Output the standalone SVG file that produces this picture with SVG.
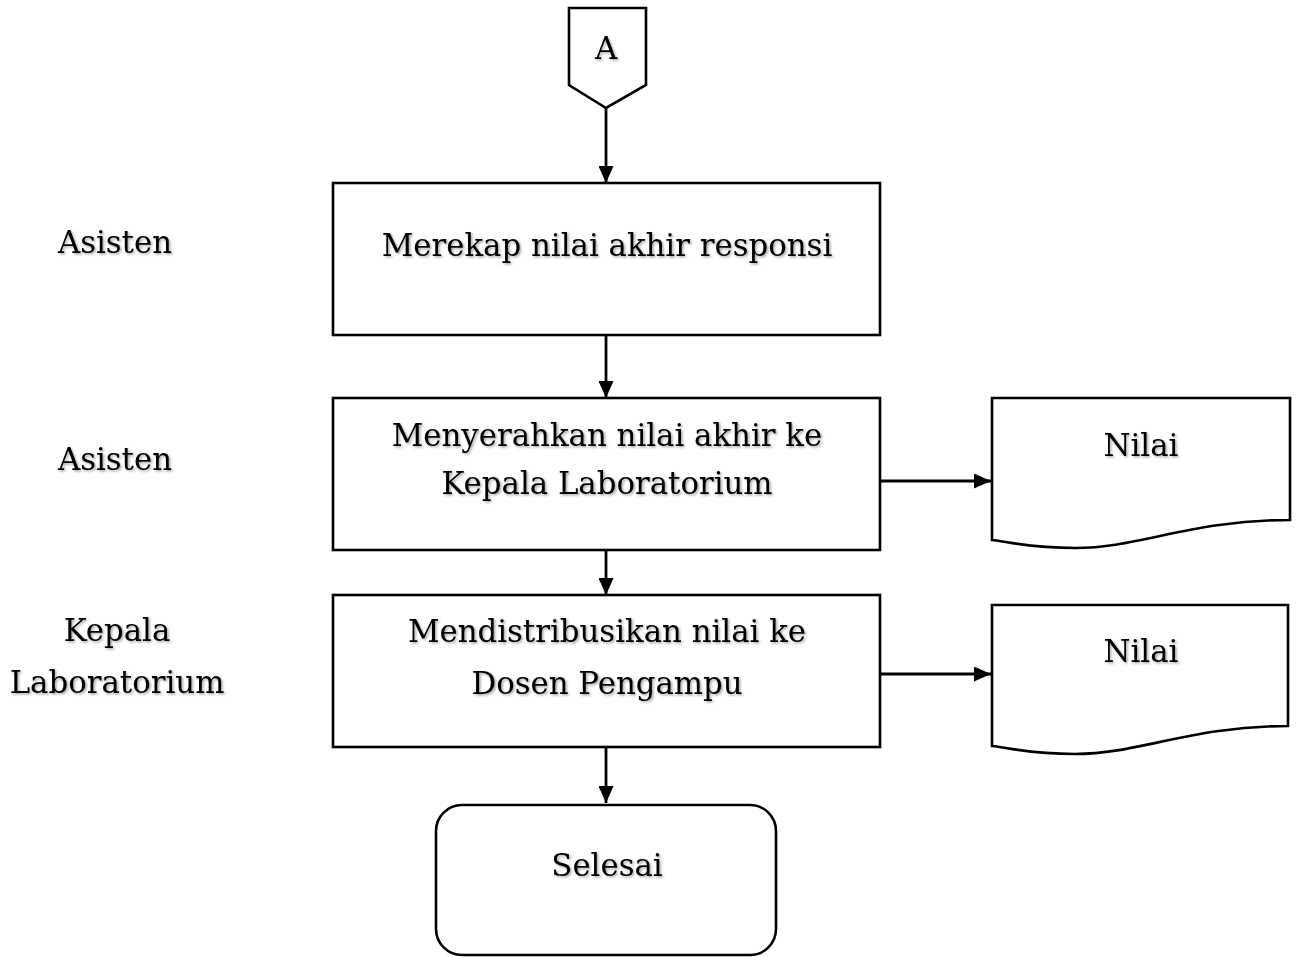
<svg xmlns="http://www.w3.org/2000/svg" width="1299" height="957" viewBox="0 0 1299 957">
<defs>
<marker id="arr" viewBox="0 0 17 15" refX="17" refY="7.5" markerWidth="17" markerHeight="15" orient="auto" markerUnits="userSpaceOnUse">
<path d="M0,0 L17,7.5 L0,15 Z" fill="#000"/>
</marker>
<filter id="sh" x="-5%" y="-20%" width="110%" height="140%">
<feDropShadow dx="1.5" dy="1.5" stdDeviation="1" flood-color="#000" flood-opacity="0.35"/>
</filter>
</defs>
<style>
.box{fill:#fff;stroke:#000;stroke-width:2.6}
.t{font-family:"DejaVu Serif","Liberation Serif",serif;font-size:30.8px;fill:#000;text-anchor:middle;filter:url(#sh)}
.c{stroke:#000;stroke-width:2.8;fill:none}
</style>
<rect width="1299" height="957" fill="#fff"/>
<g id="connectors">
<line class="c" x1="606" y1="108" x2="606" y2="183" marker-end="url(#arr)"/>
<line class="c" x1="606" y1="335" x2="606" y2="398" marker-end="url(#arr)"/>
<line class="c" x1="606" y1="550" x2="606" y2="595" marker-end="url(#arr)"/>
<line class="c" x1="606" y1="747" x2="606" y2="803" marker-end="url(#arr)"/>
<line class="c" x1="880" y1="481" x2="991" y2="481" marker-end="url(#arr)"/>
<line class="c" x1="880" y1="674" x2="991" y2="674" marker-end="url(#arr)"/>
</g>
<g id="offpage-A">
<path class="box" d="M569,8 L646,8 L646,85 L606,108 L569,85 Z" stroke-width="1.2"/>
<text class="t" x="606" y="59" font-size="25">A</text>
</g>
<g id="label-asisten1"><text class="t" x="115" y="253">Asisten</text></g>
<g id="label-asisten2"><text class="t" x="115" y="470">Asisten</text></g>
<g id="label-kepala"><text class="t" x="117" y="641">Kepala</text><text class="t" x="117" y="693">Laboratorium</text></g>
<g id="proc1">
<rect class="box" x="333" y="183" width="547" height="152"/>
<text class="t" x="607" y="256">Merekap nilai akhir responsi</text>
</g>
<g id="proc2">
<rect class="box" x="333" y="398" width="547" height="152"/>
<text class="t" x="607" y="446">Menyerahkan nilai akhir ke</text>
<text class="t" x="607" y="494">Kepala Laboratorium</text>
</g>
<g id="proc3">
<rect class="box" x="333" y="595" width="547" height="152"/>
<text class="t" x="607" y="642">Mendistribusikan nilai ke</text>
<text class="t" x="607" y="694">Dosen Pengampu</text>
</g>
<g id="doc1">
<path class="box" d="M992,398 L1290,398 L1290,520 C1190,520 1140,548 1075,548 C1030,548 1010,542 992,540 Z"/>
<text class="t" x="1141" y="456">Nilai</text>
</g>
<g id="doc2">
<path class="box" d="M992,605 L1288,605 L1288,726 C1190,726 1140,754 1075,754 C1030,754 1010,748 992,746 Z"/>
<text class="t" x="1141" y="662">Nilai</text>
</g>
<g id="end">
<rect class="box" x="436" y="805" width="340" height="150" rx="26" ry="26"/>
<text class="t" x="607" y="876">Selesai</text>
</g>
</svg>
